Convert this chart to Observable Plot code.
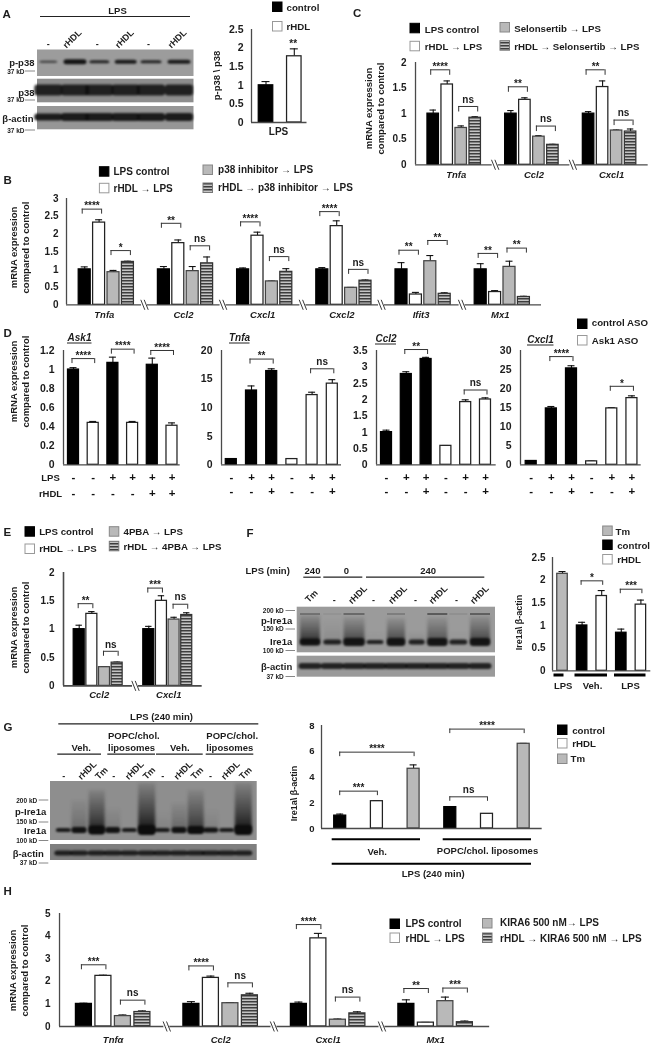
<!DOCTYPE html>
<html><head><meta charset="utf-8">
<script src="https://cdn.jsdelivr.net/npm/d3@7"></script>
<script src="https://cdn.jsdelivr.net/npm/@observablehq/plot@0.6"></script>
<style>
html,body{margin:0;padding:0;background:#fff}
#page{position:relative;width:653px;height:1043px;overflow:hidden;filter:blur(.3px)}
#page>svg,#page>figure{position:absolute;margin:0}
</style></head><body>
<svg width="0" height="0" style="position:absolute"><defs>
<pattern id="stripe" patternUnits="userSpaceOnUse" width="6" height="3"><rect width="6" height="3" fill="#c4c4c4"/><rect width="6" height="1.5" fill="#3d3d3d"/></pattern>
<linearGradient id="smear" x1="0" y1="0" x2="0" y2="1"><stop offset="0" stop-color="#111" stop-opacity=".1"/><stop offset=".6" stop-color="#111" stop-opacity=".6"/><stop offset="1" stop-color="#111" stop-opacity="1"/></linearGradient>
</defs></svg>
<div id="page"></div>
<script>
// ---------- DATA ----------
const four = ["black","white","gray","stripe"];
const aValues=[1,1.78], aErrors=[.1,.2];
const cGroups=["Tnfa","Ccl2","Cxcl1"];
const cValues=[[1,1.57,.72,.92],[1,1.27,.55,.39],[1,1.52,.67,.65]];
const cErrors=[[.07,.07,.04,.02],[.06,.04,.02,.01],[.04,.12,.01,.05]];
const cBrackets=[[0,0,1,1.857,"****"],[0,2,3,1.14,"ns"],[1,0,1,1.525,"**"],[1,2,3,.757,"ns"],[2,0,1,1.857,"**"],[2,2,3,.874,"ns"]];
const bGroups=["Tnfa","Ccl2","Cxcl1","Cxcl2","Ifit3","Mx1"];
const bValues=[[1,2.32,.92,1.21],[1,1.74,.95,1.17],[1,1.95,.66,.93],[1,2.22,.48,.68],[1,.29,1.23,.31],[1,.36,1.07,.22]];
const bErrors=[[.07,.08,.05,.02],[.08,.09,.13,.18],[.04,.1,.01,.09],[.05,.15,.01,.02],[.19,.06,.16,.03],[.16,.04,.16,.02]];
const bBrackets=[[0,0,1,2.7,"****"],[0,2,3,1.53,"*"],[1,0,1,2.3,"**"],[1,2,3,1.665,"ns"],[2,0,1,2.34,"****"],[2,2,3,1.36,"ns"],[3,0,1,2.63,"****"],[3,2,3,1.0,"ns"],[4,0,1,1.54,"**"],[4,2,3,1.815,"**"],[5,0,1,1.45,"**"],[5,2,3,1.6,"**"]];
const dAskValues=[1,.44,1.07,.44,1.05,.41], dAskErrors=[.02,.015,.06,.015,.07,.03];
const dAskBrackets=[[0,0,1,1.115,"****"],[0,2,3,1.214,"****"],[0,4,5,1.2,"****"]];
const dTnfaValues=[1,13,16.4,1,12.2,14.2], dTnfaErrors=[.05,.8,.4,.05,.5,.7];
const dTnfaBrackets=[[0,1,2,18.5,"**"],[0,4,5,16.8,"ns"]];
const dCcl2Values=[1,2.78,3.24,.58,1.92,2.0], dCcl2Errors=[.06,.07,.05,.01,.07,.05];
const dCcl2Brackets=[[0,1,2,3.53,"**"],[0,4,5,2.29,"ns"]];
const dCxcl1Values=[1,14.8,25.3,.9,14.8,17.5], dCxcl1Errors=[.1,.5,.7,.1,.2,.6];
const dCxcl1Brackets=[[0,1,2,28.4,"****"],[0,4,5,20.6,"*"]];
const lpsRowAsk=["-","-","+","+","+","+"], rhdlRowAsk=["-","-","-","-","+","+"];
const lpsRow=["-","+","+","-","+","+"], rhdlRow=["-","-","+","-","-","+"];
const eGroups=["Ccl2","Cxcl1"];
const eValues=[[1,1.27,.33,.41],[1,1.5,1.17,1.25]];
const eErrors=[[.07,.04,.01,.01],[.05,.09,.04,.04]];
const eBrackets=[[0,0,1,1.45,"**"],[0,2,3,.61,"ns"],[1,0,1,1.725,"***"],[1,2,3,1.44,"ns"]];
const fValues=[2.14,1,1.65,.84,1.46], fErrors=[.05,.07,.12,.08,.1];
const fBrackets=[[0,1,2,1.985,"*"],[0,3,4,1.8,"***"]];
const gValues=[1,2.12,4.64,1.66,1.14,6.58], gErrors=[.12,.03,.3,.02,.02,.03];
const gBrackets=[[0,0,1,2.9,"***"],[0,0,2,5.93,"****"],[0,3,4,2.46,"ns"],[0,3,5,7.72,"****"]];
const hGroups=["Tnfα","Ccl2","Cxcl1","Mx1"];
const hValues=[[1,2.24,.46,.64],[1,2.15,1.03,1.38],[1,3.9,.3,.58],[1,.17,1.12,.19]];
const hErrors=[[.03,.03,.05,.05],[.1,.08,.03,.09],[.08,.22,.03,.07],[.18,.01,.18,.05]];
const hBrackets=[[0,0,1,2.73,"***"],[0,2,3,1.165,"ns"],[1,0,1,2.68,"****"],[1,2,3,1.93,"ns"],[2,0,1,4.51,"****"],[2,2,3,1.3,"ns"],[3,0,1,1.68,"**"],[3,2,3,1.7,"***"]];

// ---------- STYLE ----------
const SANS="'Liberation Sans',Arial,sans-serif", NARROW="'Liberation Sans Narrow','Liberation Sans',sans-serif";
const INK="#1c1c1c", AXIS="#4a4a4a";
const FILL={black:"#000",white:"#fff",gray:"#b9b9b9",stripe:"url(#stripe)"};
const EDGE={black:"#000",white:"#222",gray:"#444",stripe:"#333"};
const page=document.getElementById("page");

// ---------- BAR PANELS ----------
function panel(c){
  const mL=34,mR=6,mT=14,mB=10;
  const end=c.end-c.axis, h=c.y0-c.yTop;
  const groups=c.values.length>0&&Array.isArray(c.values[0])?c.values:[c.values];
  const errs=Array.isArray(c.errors[0])?c.errors:[c.errors];
  const center=(g,i)=>c.first-c.axis+g*(c.spacing||0)+i*c.pitch;
  const bars=[];
  groups.forEach((vals,g)=>vals.forEach((v,i)=>bars.push({x:center(g,i),v,e:errs[g][i],k:c.kinds[i]})));
  const per=h/c.yMax, drop=(c.drop||5)/per;
  const pad=c.pad??2.5, w=c.barW/2, cap=c.cap??3.2;
  const br=(c.brackets||[]).map(([g,a,b,y,t])=>({x1:center(g,a)-pad,x2:center(g,b)+pad,y,t}));
  const marks=[
    Plot.ruleX(bars,{x:"x",y1:"v",y2:d=>d.v+d.e,stroke:"#111",strokeWidth:1.1}),
    Plot.ruleY(bars,{y:d=>d.v+d.e,x1:d=>d.x-cap,x2:d=>d.x+cap,stroke:"#111",strokeWidth:1.1}),
    Plot.rectY(bars,{x1:d=>d.x-w,x2:d=>d.x+w,y1:0,y2:"v",fill:d=>FILL[d.k],stroke:d=>EDGE[d.k],strokeWidth:1.25}),
    Plot.axisY(c.ticks,{tickSize:0,tickPadding:c.tp??8,fontSize:c.fs??10,fontWeight:"bold",tickFormat:d=>String(d),label:null,fill:INK}),
    Plot.ruleX([0],{y1:0,y2:c.yMax,stroke:AXIS,strokeWidth:c.axisW??1.3}),
    Plot.ruleY([0],{x1:0,x2:end,stroke:AXIS,strokeWidth:c.axisW??1.3})
  ];
  if(br.length){
    marks.push(
      Plot.ruleY(br,{y:"y",x1:"x1",x2:"x2",stroke:"#333",strokeWidth:1}),
      Plot.ruleX(br,{x:"x1",y1:d=>d.y-drop,y2:"y",stroke:"#333",strokeWidth:1}),
      Plot.ruleX(br,{x:"x2",y1:d=>d.y-drop,y2:"y",stroke:"#333",strokeWidth:1}),
      Plot.text(br.filter(d=>d.t=="ns"),{x:d=>(d.x1+d.x2)/2,y:"y",text:"t",dy:-7,fontSize:c.nsFs??10,fontWeight:"bold",fill:INK}),
      Plot.text(br.filter(d=>d.t!="ns"),{x:d=>(d.x1+d.x2)/2,y:"y",text:"t",dy:-3,fontSize:c.starFs??10,fontWeight:"bold",fill:INK})
    );
  }
  if(c.groups){
    marks.push(Plot.text(c.groups,{x:(d,g)=>center(g,0)+1.5*c.pitch+(c.labelShift||0),y:0,dy:c.groupDy??10,text:d=>d,fontSize:c.groupFs??9.5,fontWeight:"bold",fontStyle:"italic",fill:INK}));
  }
  if(c.breaks){
    const ln=c.breaks.flatMap(b=>[-1.7,1.7].map(o=>({x:b-c.axis+o})));
    marks.push(Plot.ruleY(c.breaks.map(b=>b-c.axis),{y:0,x1:d=>d-3,x2:d=>d+3,stroke:"#fff",strokeWidth:2.5}));
    marks.push(Plot.link(ln,{x1:d=>d.x-2,x2:d=>d.x+2,y1:5/per,y2:-5/per,stroke:"#222",strokeWidth:.9}));
  }
  (c.rows||[]).forEach(([row,dy])=>marks.push(Plot.text(row,{x:(d,i)=>center(0,i),y:0,dy,text:d=>d,fontSize:11.5,fontWeight:"bold",fill:"#111"})));
  const svg=Plot.plot({width:mL+end+mR,height:mT+h+mB,marginLeft:mL,marginRight:mR,marginTop:mT,marginBottom:mB,
    x:{domain:[0,end],range:[mL,mL+end],axis:null},y:{domain:[0,c.yMax],range:[mT+h,mT],axis:null},
    style:{background:"transparent",overflow:"visible",fontFamily:c.font||SANS,maxWidth:"none"},marks});
  svg.style.left=(c.axis-mL)+"px"; svg.style.top=(c.yTop-mT)+"px";
  page.appendChild(svg);
}

// ---------- PAGE LAYER (blots, legends, captions) ----------
const T=(list,o={})=>Plot.text(list,{x:d=>d[1],y:d=>d[2],text:d=>d[0],fontSize:o.size??9.7,textAnchor:o.anchor??"start",fontWeight:"bold",
  fontStyle:o.italic?"italic":"normal",rotate:o.rotate??0,fontFamily:o.font??SANS,fill:o.fill??INK});
const L=(list,o={})=>Plot.ruleY(list,{y:d=>d[2],x1:d=>d[0],x2:d=>d[1],stroke:o.stroke??"#222",strokeWidth:o.w??1.2});
const legend=(list,size=9.7,font=SANS,sw=9.5)=>[
  Plot.rect(list,{x1:d=>d[1],x2:d=>d[1]+sw,y1:d=>d[2],y2:d=>d[2]+sw,fill:d=>FILL[d[5]],stroke:d=>({black:"#000",white:"#999",gray:"#888",stripe:"#777"})[d[5]],strokeWidth:1}),
  Plot.text(list,{x:d=>d[3],y:d=>d[4],text:d=>d[0],fontSize:size,fontWeight:"bold",textAnchor:"start",fontFamily:font,fill:INK})
];
function blot(b){
  const bands=b.x.map((x,i)=>({x,w:b.w[i],h:b.h[i],y:b.y,o:b.o?b.o[i]:.9}));
  const out=[Plot.rect([0],{x1:b.x0,x2:b.x1,y1:b.y0,y2:b.y1,fill:b.bg})];
  if(b.top) out.push(Plot.rect(b.x.map((x,i)=>({x,w:b.w[i],t:b.top[i],s:b.s[i]})).filter(d=>d.s>0),
    {x1:d=>d.x-d.w/2,x2:d=>d.x+d.w/2,y1:"t",y2:b.y+2,fill:"url(#smear)",fillOpacity:"s",imageFilter:"blur(1.8px)"}));
  if(b.thin) out.push(Plot.rect(b.x.map((x,i)=>({x,w:b.w[i],o:b.thin[i]})).filter(d=>d.o>0),
    {x1:d=>d.x-d.w/2,x2:d=>d.x+d.w/2,y1:b.thinY-.8,y2:b.thinY+.8,fill:"#222",fillOpacity:"o",imageFilter:"blur(.6px)"}));
  out.push(Plot.rect(bands,{x1:d=>d.x-d.w/2,x2:d=>d.x+d.w/2,y1:d=>d.y-d.h/2,y2:d=>d.y+d.h/2,rx:3,fill:"#0d0d0d",fillOpacity:"o",imageFilter:"blur(1.1px)"}));
  return out;
}
const aLanes=[48.3,75,99.3,125.7,151,179];
const fLanes=[310,332.3,354,375,396,416.7,437.3,458.3,480];
const gLanes=[63.3,79,96.7,112.7,129.3,146.7,162.3,179,195.7,210.7,226.7,243.3];
const rot=-45;

const pageMarks=[
  ...blot({x0:37,x1:193.5,y0:49.5,y1:76,bg:"#9c9c9c",x:aLanes,y:61.7,w:[18,23,20,22,21,23],h:[2,5,3,4,3,4],o:[.7,.95,.85,.9,.85,.9]}),
  ...blot({x0:37,x1:193.5,y0:78.7,y1:102.3,bg:"#8d8d8d",x:aLanes,y:90,w:[28,28,28,28,28,28],h:[11,11,11,11,11,11],o:[.85,.85,.85,.85,.85,.85]}),
  ...blot({x0:37,x1:193.5,y0:106,y1:129.3,bg:"#969696",x:aLanes,y:117,w:[28,28,28,28,28,28],h:[7,8,8,8,8,8],o:[.9,.9,.9,.9,.9,.9]}),
  ...blot({x0:296.7,x1:495,y0:606.7,y1:652.3,bg:"#9b9b9b",x:fLanes,y:642,w:[20,18,21,17,18,16,20,18,20],h:[7,5,8,4,8,5,8,5,8],o:[.9,.85,.9,.85,.9,.85,.9,.85,.9],
    top:[615,620,617,632,618,632,617,632,616],s:[.85,.12,.7,.06,.7,.15,.6,.05,.7],thin:[.4,.08,.5,0,.3,0,.65,.1,.6],thinY:614}),
  ...blot({x0:296.7,x1:495,y0:655.7,y1:676.7,bg:"#9a9a9a",x:fLanes,y:666,w:[23,23,23,23,23,23,23,23,23],h:[6,6,6,6,6,6,6,6,6],o:[.85,.85,.85,.85,.85,.85,.85,.85,.85]}),
  ...blot({x0:50,x1:256.7,y0:781,y1:840,bg:"#8e8e8e",x:gLanes,y:830,w:[15,15,16,15,15,17,15,15,16,15,15,17],h:[4,6,9,6,4,10,4,6,8,5,4,10],o:[.9,.95,1,.95,.9,1,.9,.95,1,.95,.9,1],
    top:[828,800,790,808,828,783,812,803,790,810,828,783],s:[0,.3,.9,.18,0,1,.1,.35,.75,.12,0,1]}),
  ...blot({x0:50,x1:256.7,y0:844,y1:860,bg:"#7f7f7f",x:gLanes,y:853,w:[18,18,18,18,18,18,18,18,18,18,18,18],h:[5,5,5,5,5,5,5,5,5,5,5,5],o:[.85,.85,.85,.85,.85,.85,.85,.85,.85,.85,.85,.85]}),
  // section letters
  T([["A",2,13.5],["B",3,180],["C",352.5,13],["D",3,333],["E",3,532],["F",246,533],["G",3,727],["H",3,891]],{size:11.5}),
  // panel A
  L([[40,190,16]]),
  T([["LPS",117,10]],{anchor:"middle",size:9.5}),
  T([["p-p38",34,62],["p38",34,92],["β-actin",33,118]],{anchor:"end",size:9.5}),
  T([["37 kD",24,71],["37 kD",24,99.5],["37 kD",24,130]],{anchor:"end",size:6.5}),
  L([[25,35,70.5],[25,35,99.5],[25,35,129.5]],{stroke:"#888",w:1}),
  T([["-",47.7,44],["-",96.7,44],["-",148,44]],{anchor:"middle",size:9}),
  T([["rHDL",71.7,38.5],["rHDL",124,38.5],["rHDL",176.7,38.5]],{anchor:"middle",size:9,rotate:rot}),
  T([["**",292.7,43]],{anchor:"middle",size:10}),
  T([["LPS",278,131]],{anchor:"middle",size:10}),
  T([["p-p38 \\ p38",216,75]],{anchor:"middle",size:9.5,rotate:-90}),
  ...legend([["control",272.5,2,286,7,"black"],["rHDL",272.5,21.5,286,26.7,"white"]]),
  // panel C
  ...legend([["LPS control",410,23.3,424.3,29.3,"black"],["rHDL → LPS",410,41.3,424.3,46.7,"white"],["Selonsertib → LPS",500,22.5,513.7,28.3,"gray"],["rHDL → Selonsertib → LPS",500,40.7,513.7,46,"stripe"]],9.7),
  T([["mRNA expression",368.3,108],["compared to control",380,108]],{anchor:"middle",size:9.5,rotate:-90}),
  // panel B
  ...legend([["LPS control",99.4,166.7,113,171,"black"],["rHDL → LPS",99.4,183.3,113,188.3,"white"],["p38 inhibitor → LPS",203,165,217.6,169,"gray"],["rHDL → p38 inhibitor → LPS",203,183,217.6,187.7,"stripe"]],10,NARROW),
  T([["mRNA expression",13.5,247],["compared to control",25,247]],{anchor:"middle",size:9.5,rotate:-90}),
  // panel D
  T([["mRNA expression",13,381],["compared to control",25,381]],{anchor:"middle",size:9.5,rotate:-90}),
  T([["Ask1",79,337],["Tnfa",239,337],["Ccl2",385.5,338],["Cxcl1",540,339]],{anchor:"middle",size:10,italic:true}),
  L([[67,91.5,342.5],[229,249.5,342.5],[375,396,343.5],[527,553.5,344.5]],{w:1}),
  T([["LPS",50,477.7],["rHDL",50,493.3]],{anchor:"middle",size:9.5}),
  ...legend([["control ASO",577.5,319,591.3,322.5,"black"],["Ask1 ASO",577.5,335.5,591.3,340.5,"white"]]),
  // panel E
  ...legend([["LPS control",25,526.7,38.7,531.7,"black"],["rHDL → LPS",25,544,38.7,548.3,"white"],["4PBA → LPS",109.3,526.7,123,531.5,"gray"],["rHDL → 4PBA → LPS",109.3,541.3,123,546,"stripe"]]),
  T([["mRNA expression",13,627],["compared to control",25,627]],{anchor:"middle",size:9.5,rotate:-90}),
  // panel F
  T([["LPS (min)",245,570.7]],{size:9.5}),
  T([["240",312,570.7],["0",346,570.7],["240",427.7,570.7]],{anchor:"middle",size:9.5}),
  L([[303.3,320.7,576.7],[323.3,362.3,576.7],[366,484.3,576.7]]),
  T([["Tm",311,595.7],["rHDL",357.3,594.3],["rHDL",397.3,594.3],["rHDL",437.7,594.3],["rHDL",479,594.3]],{anchor:"middle",size:9,rotate:rot}),
  T([["-",333.7,600],["-",373,600],["-",415,600],["-",456,600]],{anchor:"middle",size:9}),
  T([["200 kD",283.3,610.3],["150 kD",283.3,628.7],["100 kD",283.3,650.3],["37 kD",283.3,676]],{anchor:"end",size:6.5}),
  L([[285.5,295,610],[285.5,295,628.5],[285.5,295,650],[285.5,295,676]],{stroke:"#888",w:1}),
  T([["p-Ire1a",291.7,620],["Ire1a",291.7,641.3],["β-actin",291.7,666.3]],{anchor:"end",size:9.5}),
  ...legend([["Tm",602.7,526,615,531,"gray"],["control",602.7,540,616.7,545.3,"black"],["rHDL",602.7,554.5,616.7,559.3,"white"]]),
  T([["Ire1a\\ β-actin",519,622]],{anchor:"middle",size:9,rotate:-90}),
  L([[553.5,563.5,674.5],[574.5,607,674.5],[614,645.5,674.5]],{stroke:"#000",w:3}),
  T([["LPS",562.7,685],["Veh.",592,685],["LPS",630,685]],{anchor:"middle",size:9.5}),
  // panel G
  T([["LPS (240 min)",161,716.7]],{anchor:"middle",size:9.5}),
  L([[58.3,258.3,723.3],[57.3,101,753.7],[107.3,155,753.7],[156,202.7,753.7],[205.7,253.3,753.7]]),
  T([["Veh.",80.7,747.3],["POPC/chol.",133.3,735.7],["liposomes",131,747.3],["Veh.",179.3,747.3],["POPC/chol.",231.7,735.7],["liposomes",229.3,747.3]],{anchor:"middle",size:9.5}),
  T([["-",63.3,776],["-",113.3,776],["-",162.3,776],["-",210,776]],{anchor:"middle",size:9}),
  T([["rHDL",86.7,770],["Tm",101,772.7],["rHDL",134,770],["Tm",148.7,772.7],["rHDL",182.7,770],["Tm",196.7,772.7],["rHDL",230,770],["Tm",245,772.7]],{anchor:"middle",size:9,rotate:rot}),
  T([["200 kD",36.7,800],["150 kD",36.7,821.7],["100 kD",36.7,840],["37 kD",36.7,862.7]],{anchor:"end",size:6.5}),
  L([[38.7,48.3,799.5],[38.7,48.3,821.5],[38.7,48.3,840],[38.7,48.3,862.5]],{stroke:"#888",w:1}),
  T([["p-Ire1a",45.7,811],["Ire1a",45.7,830.3],["β-actin",43.3,853.3]],{anchor:"end",size:9.5}),
  T([["Ire1a\\ β-actin",294,793]],{anchor:"middle",size:9,rotate:-90}),
  L([[331.7,420,838.7],[442.7,531,838.7],[331.7,531,863.3]],{stroke:"#000",w:2}),
  T([["Veh.",376.7,851],["POPC/chol. liposomes",487,850],["LPS (240 min)",432.7,873]],{anchor:"middle",size:9.5}),
  ...legend([["control",557.5,725,571.7,730,"black"],["rHDL",557.5,738.5,571.7,743,"white"],["Tm",557.5,754,570,758,"gray"]]),
  // panel H
  ...legend([["LPS control",390,919,405,923.3,"black"],["rHDL → LPS",390,933,405,938.3,"white"],["KIRA6 500 nM→ LPS",482.5,918.5,499.6,922.7,"gray"],["rHDL → KIRA6 500 nM → LPS",482.5,933,499.6,938,"stripe"]],10,NARROW),
  T([["mRNA expression",12.5,970],["compared to control",24,970]],{anchor:"middle",size:9.5,rotate:-90})
];
const pageSvg=Plot.plot({width:653,height:1043,margin:0,x:{domain:[0,653],range:[0,653],axis:null},y:{domain:[0,1043],range:[0,1043],axis:null},
  style:{background:"#fff",fontFamily:SANS,maxWidth:"none"},marks:pageMarks});
pageSvg.style.left="0";pageSvg.style.top="0";
page.appendChild(pageSvg);

// ---------- DRAW PANELS ----------
panel({axis:250.5,end:306,y0:122,yTop:29,yMax:2.5,ticks:[0,.5,1,1.5,2,2.5],values:aValues,errors:aErrors,kinds:["black","white"],first:265,pitch:28.3,barW:14.5,tp:8,fs:10.5,cap:4});
panel({axis:415.3,end:648,y0:164,yTop:61.7,yMax:2,ticks:[0,.5,1,1.5,2],values:cValues,errors:cErrors,kinds:four,first:433,pitch:14,spacing:77.7,barW:11.5,brackets:cBrackets,tp:9,fs:10,groups:cGroups,labelShift:2,breaks:[495,572.7],drop:5.5});
panel({axis:66,end:541,y0:304,yTop:197.7,yMax:3,ticks:[0,.5,1,1.5,2,2.5,3],values:bValues,errors:bErrors,kinds:four,first:84.2,pitch:14.4,spacing:79.2,barW:12,brackets:bBrackets,tp:8,fs:10,font:NARROW,groups:bGroups,labelShift:-2,breaks:[144,222.6,302.4,381,461.6],cap:3.5});
const dCommon={y0:464.3,yTop:350,tp:9,fs:10.5,barW:11,drop:5,pad:1.5,cap:3.5,kinds:["black","black","black","white","white","white"],rows:[[lpsRow,12.5],[rhdlRow,27]]};
panel({...dCommon,axis:63.3,end:180,yMax:1.2,ticks:[0,.2,.4,.6,.8,1,1.2],values:dAskValues,errors:dAskErrors,kinds:["black","white","black","white","black","white"],first:73.3,pitch:19.7,brackets:dAskBrackets,rows:[[lpsRowAsk,13],[rhdlRowAsk,28.5]]});
panel({...dCommon,axis:221,end:341,yMax:20,ticks:[0,5,10,15,20],values:dTnfaValues,errors:dTnfaErrors,first:230.8,pitch:20.2,brackets:dTnfaBrackets});
panel({...dCommon,axis:376.3,end:496,yMax:3.5,ticks:[0,.5,1,1.5,2,2.5,3,3.5],values:dCcl2Values,errors:dCcl2Errors,first:386.3,pitch:19.8,brackets:dCcl2Brackets});
panel({...dCommon,axis:520.3,end:641,yMax:30,ticks:[0,5,10,15,20,25,30],values:dCxcl1Values,errors:dCxcl1Errors,first:531,pitch:20.15,brackets:dCxcl1Brackets});
panel({axis:63,end:201.7,y0:685.7,yTop:572.3,yMax:2,ticks:[0,.5,1,1.5,2],values:eValues,errors:eErrors,kinds:four,first:78.7,pitch:12.65,spacing:69.6,barW:11,brackets:eBrackets,tp:9,fs:10,groups:eGroups,labelShift:1,breaks:[135],pad:1,axisW:1.6,cap:3.2,groupDy:9.5});
panel({axis:551.7,end:650,y0:670,yTop:556.7,yMax:2.5,ticks:[0,.5,1,1.5,2,2.5],values:fValues,errors:fErrors,kinds:["gray","black","white","black","white"],first:561.7,pitch:19.6,barW:10.5,brackets:fBrackets,tp:7,fs:10,pad:1,cap:3.5,drop:4.5});
panel({axis:321,end:541.7,y0:828,yTop:725,yMax:8,ticks:[0,2,4,6,8],values:gValues,errors:gErrors,kinds:["black","white","gray","black","white","gray"],first:339.7,pitch:36.7,barW:12,brackets:gBrackets,tp:7,fs:9.5,pad:.5,cap:3.5,drop:4.5});
panel({axis:58.5,end:488.7,y0:1025.7,yTop:912.7,yMax:5,ticks:[0,1,2,3,4,5],values:hValues,errors:hErrors,kinds:four,first:82.9,pitch:19.5,spacing:107.5,barW:16,brackets:hBrackets,tp:9,fs:10,font:NARROW,groups:hGroups,groupDy:13,breaks:[165.8,273,381],cap:4});
</script>
</body></html>
